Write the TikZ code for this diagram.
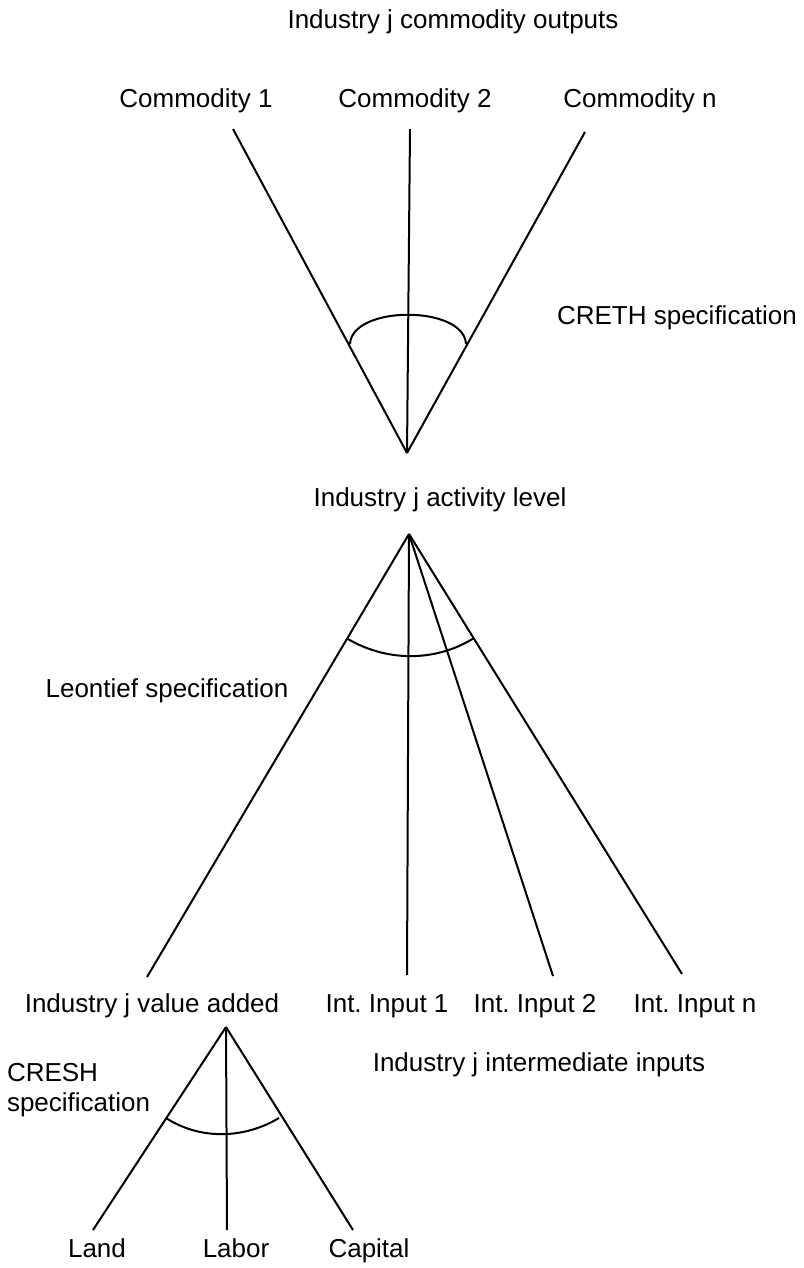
\documentclass[tikz,border=0pt]{standalone}
\usepackage{fontspec}
\setmainfont{Liberation Sans}
\usetikzlibrary{positioning}
\frenchspacing

\begin{document}
\begin{tikzpicture}[x=1pt,y=-1pt,line width=2pt,lbl/.style={inner sep=0pt,anchor=base,font=\fontsize{26}{30}\selectfont}]
\useasboundingbox (0,0) rectangle (803,1268);
% labels
\node[lbl] (outputs) at (453,29) {Industry j commodity outputs};
\node[lbl] (com1) at (196,108) {Commodity 1};
\node[lbl] (com2) at (415,108) {Commodity 2};
\node[lbl] (comn) at (640,108) {Commodity n};
\node[lbl] (creth) at (677,324) {CRETH specification};
\node[lbl] (activity) at (440,506) {Industry j activity level};
\node[lbl] (leontief) at (167,697) {Leontief specification};
\node[lbl] (va) at (152,1012) {Industry j value added};
\node[lbl] (int1) at (387,1012) {Int. Input 1};
\node[lbl] (int2) at (535,1012) {Int. Input 2};
\node[lbl] (intn) at (695,1012) {Int. Input n};
\node[lbl] (intinputs) at (539,1071) {Industry j intermediate inputs};
\node[lbl,align=left,anchor=north west] (cresh) at (6,1062) {CRESH\\specification};
\node[lbl] (land) at (97,1257) {Land};
\node[lbl] (labor) at (236,1257) {Labor};
\node[lbl] (capital) at (369,1257) {Capital};
% fan ends
\coordinate (topapex) at (407,453);
\coordinate (c1) at (233,129);
\coordinate (c2) at (410,129);
\coordinate (cn) at (585,132);
\coordinate (midapex) at (409,534);
\coordinate (i0) at (147,977);
\coordinate (i1) at (407,975);
\coordinate (i2) at (553,976);
\coordinate (in) at (682,974);
\coordinate (lowapex) at (226,1027);
\coordinate (f1) at (93,1230);
\coordinate (f2) at (227,1230);
\coordinate (f3) at (353,1230);
\foreach \e in {c1,c2,cn} {
   \draw (topapex) -- (\e);
}
\foreach \e in {i0,i1,i2,in} {
   \draw (midapex) -- (\e);
}
\foreach \e in {f1,f2,f3} {
   \draw (lowapex) -- (\e);
}
% elasticity arcs
\draw (350,344) .. controls (352,305) and (464,305) .. (466,344);
\draw (348,639) .. controls (387,662) and (436,662) .. (474,638);
\draw (166,1118) .. controls (200,1140) and (244,1139) .. (279,1118);
\end{tikzpicture}
\end{document}
